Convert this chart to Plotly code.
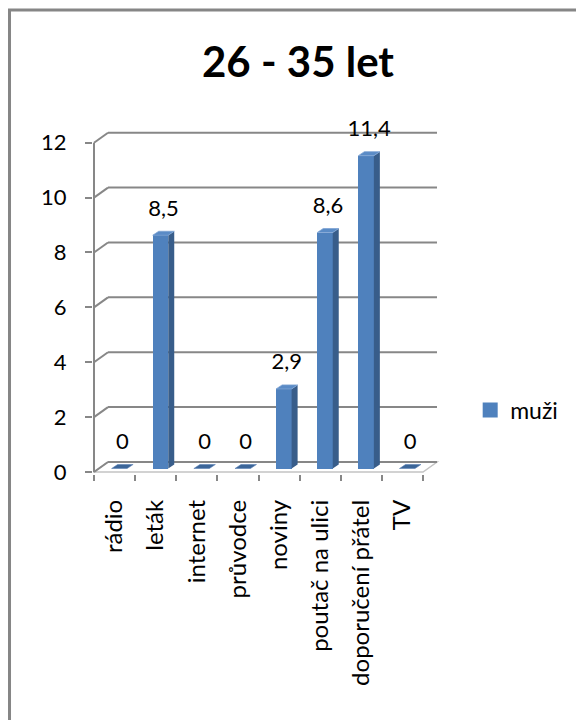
import plotly.graph_objects as go

# ---- data ----
categories = ["rádio", "leták", "internet", "průvodce", "noviny",
              "poutač na ulici", "doporučení přátel", "TV"]
values_muzi = [0, 8.5, 0, 0, 2.9, 8.6, 11.4, 0]
y_ticks = [0, 2, 4, 6, 8, 10, 12]
series_name = "muži"
title_text = "26 - 35 let"

# ---- pseudo-3D geometry (in axis units) ----
PXX, PXY = 41.125, 27.44
wall_dx, wall_dy = 14 / PXX, 10 / PXY      # back-wall offset
off_x, off_y = 4.8 / PXX, 3.5 / PXY        # bar front-face offset
bar_w = 15.5 / PXX
dep_x, dep_y = 6 / PXX, 4 / PXY            # bar depth

GRID = "#878787"
FRONT = "#4F81BD"
SIDE = "#385D8A"
TOP = "#5A8BC6"
TOP0 = "#3C6699"
FONT = "Lato"

n = len(categories)
centers = list(range(n))
bounds = [i - 0.5 for i in range(n + 1)]

fig = go.Figure()

# front faces
fig.add_trace(go.Bar(
    x=[c + off_x for c in centers], y=values_muzi, base=[off_y] * n,
    width=bar_w, marker=dict(color=FRONT, line=dict(width=0)),
    name=series_name, showlegend=False, hoverinfo="skip"))

# side and top faces
sx, sy = [], []
tx_n, ty_n, tx_z, ty_z = [], [], [], []
for c, v in zip(centers, values_muzi):
    x0 = c + off_x - bar_w / 2
    x1 = c + off_x + bar_w / 2
    yb, yt = off_y, off_y + v
    if v > 0:
        sx += [x1, x1 + dep_x, x1 + dep_x, x1, x1, None]
        sy += [yb, yb + dep_y, yt + dep_y, yt, yb, None]
    seg_x = [x0, x1, x1 + dep_x, x0 + dep_x, x0, None]
    seg_y = [yt, yt, yt + dep_y, yt + dep_y, yt, None]
    if v > 0:
        tx_n += seg_x; ty_n += seg_y
    else:
        tx_z += seg_x; ty_z += seg_y

fig.add_trace(go.Scatter(x=sx, y=sy, mode="lines", fill="toself",
                         fillcolor=SIDE, line=dict(width=0, color=SIDE),
                         showlegend=False, hoverinfo="skip"))
fig.add_trace(go.Scatter(x=tx_n, y=ty_n, mode="lines", fill="toself",
                         fillcolor=TOP, line=dict(width=0.8, color="#7EA3D3"),
                         showlegend=False, hoverinfo="skip"))
fig.add_trace(go.Scatter(x=tx_z, y=ty_z, mode="lines", fill="toself",
                         fillcolor=TOP0, line=dict(width=0.6, color="#5C82B5"),
                         showlegend=False, hoverinfo="skip"))

# data labels
fig.add_trace(go.Scatter(
    x=[c + off_x + dep_x / 2 for c in centers],
    y=[off_y + v + 0.92 for v in values_muzi],
    mode="text", text=[f"{v:g}".replace(".", ",") for v in values_muzi],
    textposition="middle center",
    textfont=dict(family=FONT, size=22, color="black"),
    cliponaxis=False, showlegend=False, hoverinfo="skip"))

# legend entry for the series
fig.add_trace(go.Scatter(
    x=[None], y=[None], mode="markers", name=series_name,
    marker=dict(symbol="square", size=15, color=FRONT),
    showlegend=True, hoverinfo="skip"))

shapes = []
# floor
x_l, x_r = bounds[0], bounds[-1]
shapes.append(dict(type="path", xref="x", yref="y", layer="below",
                   path=f"M{x_l},0 L{x_r},0 L{x_r + wall_dx},{wall_dy} "
                        f"L{x_l + wall_dx},{wall_dy} Z",
                   fillcolor="white", line=dict(color="#c4c4c4", width=1.5)))
# gridlines on back wall + side wall diagonals
for v in y_ticks:
    shapes.append(dict(type="line", xref="x", yref="y", layer="below",
                       x0=x_l + wall_dx, x1=x_r + wall_dx,
                       y0=v + wall_dy, y1=v + wall_dy,
                       line=dict(color=GRID, width=2)))
    shapes.append(dict(type="line", xref="x", yref="y", layer="below",
                       x0=x_l, x1=x_l + wall_dx, y0=v, y1=v + wall_dy,
                       line=dict(color=GRID, width=2)))
# front value axis line
shapes.append(dict(type="line", xref="x", yref="y", layer="below",
                   x0=x_l, x1=x_l, y0=0, y1=y_ticks[-1],
                   line=dict(color=GRID, width=2)))
# outer chart border (left and top)
shapes.append(dict(type="path", xref="paper", yref="paper",
                   path="M-0.2406,-0.72 L-0.2406,1.3107 L1.42,1.3107",
                   line=dict(color="#868686", width=3)))

# axis ranges mapping to pixels
x_min = -0.5 - 1 / PXX
x_max = x_min + 347 / PXX
y_min = -2 / PXY
y_max = y_min + 354 / PXY

fig.update_layout(
    width=576, height=720,
    margin=dict(l=93, r=136, t=120, b=246),
    paper_bgcolor="white", plot_bgcolor="white",
    font=dict(family=FONT, size=22, color="black"),
    title=dict(text=title_text, x=298 / 576, xref="container", xanchor="center",
               y=1 - 62 / 720, yref="container", yanchor="middle",
               font=dict(family=FONT, size=42, color="black", weight="bold")),
    shapes=shapes,
    bargap=0,
    legend=dict(x=1.087, y=0.1808, xanchor="left", yanchor="middle",
                font=dict(family=FONT, size=23, color="black"),
                bgcolor="rgba(0,0,0,0)"),
    xaxis=dict(range=[x_min, x_max], tickmode="array", tickvals=centers,
               ticktext=categories, tickangle=-90, ticks="",
               showgrid=False, zeroline=False, showline=False,
               ticklabelstandoff=20,
               tickfont=dict(family=FONT, size=24, color="black"),
               minor=dict(tickmode="array", tickvals=bounds, ticks="outside",
                          ticklen=6, tickwidth=2, tickcolor=GRID, showgrid=False)),
    yaxis=dict(range=[y_min, y_max], tickmode="array", tickvals=y_ticks,
               ticktext=[str(t) for t in y_ticks], ticks="outside", ticklen=7,
               tickwidth=2, tickcolor=GRID, showgrid=False, zeroline=False,
               showline=False, ticklabelstandoff=14,
               tickfont=dict(family=FONT, size=22, color="black")),
)

fig.write_html("out.html")
